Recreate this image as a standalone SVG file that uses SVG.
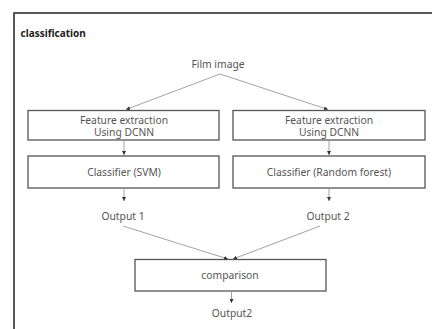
<svg xmlns="http://www.w3.org/2000/svg" width="432" height="329" viewBox="0 0 432 329">
  <style>
    text { font-family: "Noto Sans", "Open Sans", sans-serif; font-size: 10.3px; fill: #555; text-anchor: middle; }
    .title { font-weight: bold; fill: #222; text-anchor: start; font-size: 10px; }
    .box { fill: #fff; stroke: #555; stroke-width: 1.3; }
    .link { stroke: #999; stroke-width: 0.9; fill: none; marker-end: url(#arrow); }
  </style>
  <defs>
    <marker id="arrow" viewBox="0 0 6 6" refX="6" refY="3" markerWidth="4" markerHeight="4" orient="auto" markerUnits="userSpaceOnUse">
      <path d="M0,0 L6,3 L0,6 Z" fill="#333"/>
    </marker>
  </defs>
  <rect width="432" height="329" fill="#fff"/>
  <!-- outer frame, open to the right and bottom -->
  <path d="M14,340 V13 H440" fill="none" stroke="#222" stroke-width="1.5"/>
  <text class="title" x="20.5" y="37">classification</text>

  <g id="film-image"><text x="218" y="68">Film image</text></g>

  <g id="feature-left">
    <rect class="box" x="28" y="110.5" width="191" height="29.5"/>
    <text x="124" y="123.5">Feature extraction</text>
    <text x="124" y="136">Using DCNN</text>
  </g>
  <g id="feature-right">
    <rect class="box" x="233" y="110.5" width="192" height="29.5"/>
    <text x="329" y="123.5">Feature extraction</text>
    <text x="329" y="136">Using DCNN</text>
  </g>
  <g id="classifier-svm">
    <rect class="box" x="28" y="156" width="191" height="32"/>
    <text x="124" y="176">Classifier (SVM)</text>
  </g>
  <g id="classifier-rf">
    <rect class="box" x="233" y="156" width="192" height="32"/>
    <text x="329" y="176">Classifier (Random forest)</text>
  </g>
  <g id="output-1"><text x="123" y="220">Output 1</text></g>
  <g id="output-2"><text x="328" y="220">Output 2</text></g>
  <g id="comparison">
    <rect class="box" x="135" y="259.5" width="191" height="31.5"/>
    <text x="230" y="278.5">comparison</text>
  </g>
  <g id="output2"><text x="232" y="316.5">Output2</text></g>

  <g id="connectors">
    <line class="link" x1="220" y1="74" x2="126" y2="109.5"/>
    <line class="link" x1="220" y1="74" x2="328" y2="109.5"/>
    <line class="link" x1="124" y1="140" x2="124" y2="155"/>
    <line class="link" x1="329" y1="140" x2="329" y2="155"/>
    <line class="link" x1="124" y1="188" x2="124" y2="201"/>
    <line class="link" x1="329" y1="188" x2="329" y2="201"/>
    <line class="link" x1="123" y1="226" x2="228" y2="259"/>
    <line class="link" x1="320" y1="226" x2="233" y2="259"/>
    <line class="link" x1="231.5" y1="291" x2="231.5" y2="303"/>
  </g>
</svg>
